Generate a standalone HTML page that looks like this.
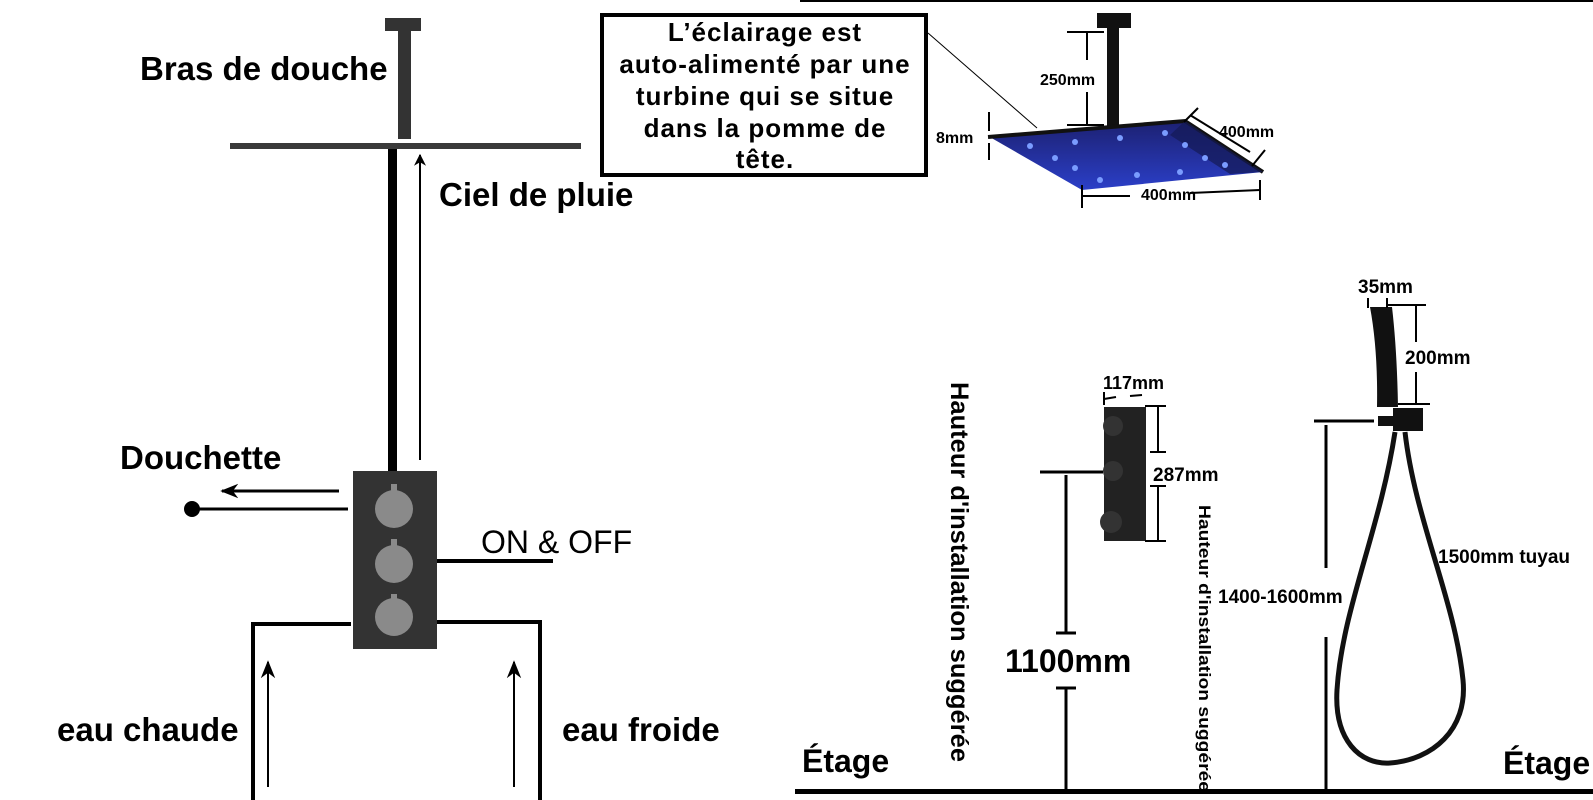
<!DOCTYPE html>
<html><head><meta charset="utf-8"><style>
html,body{margin:0;padding:0;background:#fff;}
svg{display:block}
text{font-family:"Liberation Sans",Arial,sans-serif;font-weight:bold;fill:#000}
</style></head><body>
<svg width="1593" height="800" viewBox="0 0 1593 800" xmlns="http://www.w3.org/2000/svg">
<defs>
<marker id="ah" viewBox="0 0 10 10" refX="9" refY="5" markerWidth="12" markerHeight="12" orient="auto-start-reverse" markerUnits="userSpaceOnUse">
<path d="M0,0 L10,5 L0,10 L3,5 z" fill="#000"/></marker>
<marker id="ah2" viewBox="0 0 10 10" refX="9" refY="5" markerWidth="18" markerHeight="18" orient="auto-start-reverse" markerUnits="userSpaceOnUse">
<path d="M0,1 L10,5 L0,9 L3,5 z" fill="#000"/></marker>
<linearGradient id="blue" x1="0" y1="0" x2="0" y2="1"><stop offset="0" stop-color="#1c2070"/><stop offset="1" stop-color="#2b3fc8"/></linearGradient>
</defs>
<rect x="800" y="0" width="793" height="2" fill="#000"/>
<!-- LEFT -->
<rect x="385" y="18" width="36" height="13" fill="#333"/>
<rect x="398" y="31" width="13" height="108" fill="#333"/>
<rect x="230" y="143" width="351" height="6" fill="#3a3a3a"/>
<rect x="388" y="149" width="9" height="322" fill="#000"/>
<line x1="420" y1="460" x2="420" y2="155" stroke="#000" stroke-width="2" marker-end="url(#ah)"/>
<text x="140" y="80" font-size="33">Bras de douche</text>
<text x="439" y="206" font-size="33">Ciel de pluie</text>
<text x="120" y="469" font-size="33">Douchette</text>
<circle cx="192" cy="509" r="8" fill="#000"/>
<line x1="192" y1="509" x2="348" y2="509" stroke="#000" stroke-width="3"/>
<line x1="339" y1="491" x2="222" y2="491" stroke="#000" stroke-width="3" marker-end="url(#ah2)"/>
<rect x="353" y="471" width="84" height="178" fill="#333"/>
<g fill="#8a8a8a"><circle cx="394" cy="509" r="19"/><circle cx="394" cy="564" r="19"/><circle cx="394" cy="617" r="19"/>
<rect x="391" y="484" width="6" height="8"/><rect x="391" y="539" width="6" height="8"/><rect x="391" y="594" width="6" height="8"/></g>
<line x1="437" y1="561" x2="553" y2="561" stroke="#000" stroke-width="4"/>
<text x="481" y="553" font-size="32" style="font-weight:normal">ON &amp; OFF</text>
<path d="M351,624 H253 V800" fill="none" stroke="#000" stroke-width="4"/>
<path d="M437,622 H540 V800" fill="none" stroke="#000" stroke-width="4"/>
<line x1="268" y1="787" x2="268" y2="662" stroke="#000" stroke-width="2" marker-end="url(#ah2)"/>
<line x1="514" y1="787" x2="514" y2="662" stroke="#000" stroke-width="2" marker-end="url(#ah2)"/>
<text x="57" y="741" font-size="33">eau chaude</text>
<text x="562" y="741" font-size="33">eau froide</text>
<!-- TEXT BOX -->
<rect x="602" y="15" width="324" height="160" fill="none" stroke="#000" stroke-width="4"/>
<g font-size="26" text-anchor="middle" letter-spacing="1">
<text x="765" y="41">L’éclairage est</text>
<text x="765" y="73">auto-alimenté par une</text>
<text x="765" y="105">turbine qui se situe</text>
<text x="765" y="137">dans la pomme de</text>
<text x="765" y="168">tête.</text></g>
<line x1="928" y1="33" x2="1037" y2="128" stroke="#000" stroke-width="1"/>
<!-- RAIN HEAD -->
<rect x="1097" y="13" width="34" height="15" fill="#111"/>
<rect x="1107" y="20" width="12" height="106" fill="#111"/>
<polygon points="988,136 1185,120 1263,172 1082,190" fill="url(#blue)"/>
<polyline points="988,137 1185,121 1263,172" fill="none" stroke="#111" stroke-width="4"/>
<polygon points="1185,121 1263,172 1230,174 1170,135" fill="#141a55" opacity="0.7"/>
<g fill="#7a9cff"><circle cx="1030" cy="146" r="3"/><circle cx="1055" cy="158" r="3"/><circle cx="1075" cy="142" r="3"/><circle cx="1120" cy="138" r="3"/><circle cx="1165" cy="133" r="3"/><circle cx="1185" cy="145" r="3"/><circle cx="1205" cy="158" r="3"/><circle cx="1225" cy="165" r="3"/><circle cx="1137" cy="175" r="3"/><circle cx="1180" cy="172" r="3"/><circle cx="1075" cy="168" r="3"/><circle cx="1100" cy="180" r="3"/></g>
<g stroke="#000" stroke-width="2" fill="none">
<line x1="1067" y1="32" x2="1104" y2="32"/><line x1="1087" y1="32" x2="1087" y2="60"/><line x1="1087" y1="92" x2="1087" y2="125"/><line x1="1067" y1="125" x2="1104" y2="125"/>
<line x1="989" y1="112" x2="989" y2="131"/><line x1="989" y1="143" x2="989" y2="160"/>
<line x1="1082" y1="185" x2="1082" y2="208"/><line x1="1082" y1="196" x2="1130" y2="196"/><line x1="1190" y1="193" x2="1260" y2="190"/><line x1="1260" y1="180" x2="1260" y2="200"/>
<line x1="1198" y1="108" x2="1184" y2="122"/><line x1="1190" y1="115" x2="1250" y2="152"/><line x1="1265" y1="150" x2="1252" y2="166"/></g>
<g font-size="16"><text x="1040" y="85">250mm</text><text x="936" y="143">8mm</text><text x="1219" y="137">400mm</text><text x="1141" y="200">400mm</text></g>
<!-- FLOOR -->
<rect x="795" y="789" width="798" height="5" fill="#000"/>
<text x="802" y="772" font-size="32">Étage</text>
<text x="1503" y="774" font-size="32">Étage</text>
<!-- MIXER right -->
<rect x="1104" y="407" width="42" height="134" fill="#222"/>
<g fill="#333"><circle cx="1113" cy="426" r="10"/><circle cx="1113" cy="471" r="10"/><circle cx="1111" cy="522" r="11"/></g>
<g stroke="#000" stroke-width="2" fill="none">
<line x1="1104" y1="392" x2="1104" y2="405"/><line x1="1104" y1="399" x2="1116" y2="397"/><line x1="1130" y1="396" x2="1142" y2="395"/>
<line x1="1145" y1="406" x2="1166" y2="406"/><line x1="1158" y1="406" x2="1158" y2="452"/><line x1="1150" y1="452" x2="1166" y2="452"/>
<line x1="1150" y1="486" x2="1166" y2="486"/><line x1="1158" y1="486" x2="1158" y2="541"/><line x1="1145" y1="541" x2="1166" y2="541"/></g>
<line x1="1040" y1="472" x2="1103" y2="472" stroke="#000" stroke-width="3"/>
<g stroke="#000" stroke-width="3"><line x1="1066" y1="475" x2="1066" y2="633"/><line x1="1056" y1="633" x2="1076" y2="633"/><line x1="1056" y1="688" x2="1076" y2="688"/><line x1="1066" y1="688" x2="1066" y2="792"/></g>
<text x="1005" y="672" font-size="32">1100mm</text>
<text font-size="18" x="1103" y="389">117mm</text>
<text font-size="19" x="1153" y="481">287mm</text>
<text font-size="25" transform="translate(951,382) rotate(90)" textLength="380" lengthAdjust="spacingAndGlyphs">Hauteur d'installation suggérée</text>
<text font-size="17" transform="translate(1199,505) rotate(90)" textLength="287" lengthAdjust="spacingAndGlyphs">Hauteur d'installation suggérée</text>
<!-- HAND SHOWER -->
<path d="M1370,307 L1392,307 Q1397,350 1398,407 L1377,407 Q1378,350 1370,307 z" fill="#111"/>
<rect x="1393" y="408" width="30" height="23" fill="#111"/>
<rect x="1378" y="416" width="16" height="10" fill="#111"/>
<path d="M1395,432 C1380,530 1342,610 1337,690 C1334,740 1360,765 1390,763 C1432,760 1468,730 1463,680 C1455,600 1415,520 1405,432" fill="none" stroke="#111" stroke-width="5"/>
<g stroke="#000" stroke-width="2"><line x1="1368" y1="298" x2="1368" y2="308"/><line x1="1387" y1="298" x2="1387" y2="308"/><line x1="1387" y1="305" x2="1426" y2="305"/><line x1="1416" y1="305" x2="1416" y2="342"/><line x1="1416" y1="372" x2="1416" y2="404"/><line x1="1398" y1="404" x2="1430" y2="404"/></g>
<g stroke="#000" stroke-width="3"><line x1="1314" y1="421" x2="1374" y2="421"/><line x1="1326" y1="425" x2="1326" y2="568"/><line x1="1326" y1="637" x2="1326" y2="790"/></g>
<text font-size="19" x="1358" y="293">35mm</text>
<text font-size="19" x="1405" y="364">200mm</text>
<text font-size="19" x="1218" y="603">1400-1600mm</text>
<text font-size="19" x="1438" y="563">1500mm tuyau</text>
</svg>
</body></html>
